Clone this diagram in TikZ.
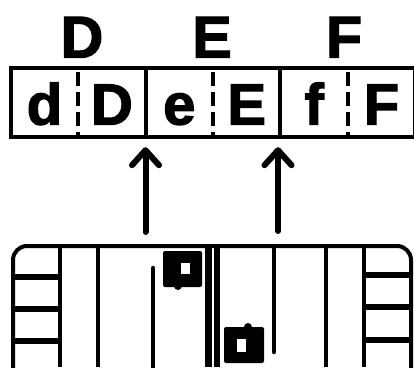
\documentclass[tikz,border=0pt]{standalone}
\usepackage{fontspec}
\newfontfamily\keyfont[FakeBold=2.2]{Liberation Sans Bold}
\usetikzlibrary{
arrows.meta,
positioning
}
\tikzset{
keytop/.style={font=\keyfont\fontsize{59}{59}\selectfont, inner sep=0pt, text=black, text height=44pt, text depth=0pt},
keycell/.style={minimum width=67pt, minimum height=69pt, inner sep=0pt, font=\keyfont\fontsize{58}{58}\selectfont, text=black, text height=44pt, text depth=0pt},
stripline/.style={draw=black, line width=4pt},
stripdash/.style={draw=black, line width=4pt, dash pattern=on 14pt off 6pt, dash phase=-4pt},
scanarrow/.style={-{Straight Barb[length=15pt, width=27pt, line width=6pt, round]}, line width=6pt, line cap=round, draw=black, shorten >=10pt},
casing/.style={draw=black, line width=4pt, rounded corners=14pt},
bar/.style={draw=black, line width=4.5pt},
shelf/.style={draw=black, line width=6.5pt},
headbox/.style={fill=black, rounded corners=2pt},
headhole/.style={fill=white}
}
\begin{document}
\begin{tikzpicture}[x=1pt, y=-1pt]
\useasboundingbox (0,0) rectangle (414,367);

% upper row
\node[keycell] (cell1) at (44.5,102.5) {d};
\node[keycell, right=0pt of cell1] (cell2) {D};
\node[keycell, right=0pt of cell2] (cell3) {e};
\node[keycell, right=0pt of cell3] (cell4) {E};
\node[keycell, right=0pt of cell4] (cell5) {f};
\node[keycell, right=0pt of cell5] (cell6) {F};

\node[keytop] (topD) at (82,35.5) {D};
\node[keytop] (topE) at (212,35.5) {E};
\node[keytop] (topF) at (344,35.5) {F};

\draw[stripline] (cell1.north west) rectangle (cell6.south east);
\draw[stripdash] (cell1.north east) -- (cell1.south east);
\draw[stripline] (cell2.north east) -- (cell2.south east);
\draw[stripdash] (cell3.north east) -- (cell3.south east);
\draw[stripline] (cell4.north east) -- (cell4.south east);
\draw[stripdash] (cell5.north east) -- (cell5.south east);

% arrows
\coordinate (tailA) at (145.5,232);
\coordinate (tailB) at (278,231);
\draw[scanarrow] (tailA) -- (tailA |- cell3.south);
\draw[scanarrow] (tailB) -- (tailB |- cell5.south);

% lower unit
\draw[casing] (13,372) -- (13,246) -- (411,246) -- (411,372);
\foreach \yy in {277,309,341} {
  \draw[shelf] (13,\yy) -- (60,\yy);
}
\foreach \yy in {275,307,340} {
  \draw[shelf] (364,\yy) -- (411,\yy);
}
\foreach \xx in {60,98,326,364} {
  \draw[bar] (\xx,246) -- (\xx,367);
}
\draw[bar, line cap=round] (153,268) -- (153,367);
\draw[bar, line cap=round] (274,246) -- (274,352);
\draw[bar, line width=7pt] (208.5,246) -- (208.5,367);
\draw[bar, line width=6.5pt] (217,246) -- (217,367);

% heads
\fill[headbox] (163,251) rectangle (202,287);
\fill[black] (178,286) circle (4pt);
\fill[headhole] (181,263) rectangle (190,274);
\fill[headbox] (224,327) rectangle (264,363);
\fill[black] (248,327) circle (4pt);
\fill[headhole] (237,339) rectangle (246,352);
\end{tikzpicture}
\end{document}
